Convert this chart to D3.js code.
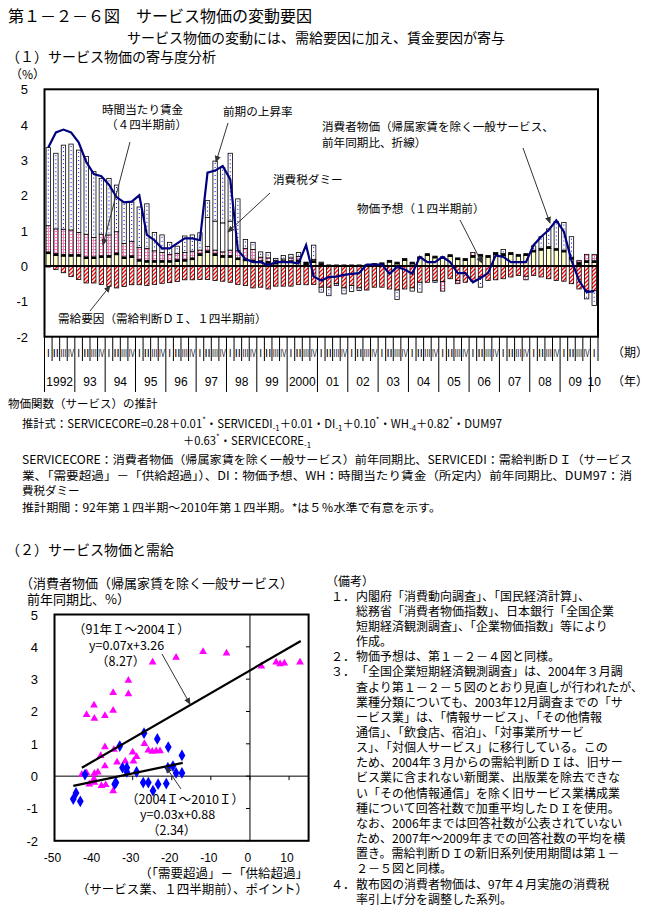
<!DOCTYPE html>
<html>
<head>
<meta charset="utf-8">
<script src="https://cdn.jsdelivr.net/npm/d3@7"></script>
<style>
body { margin: 0; background: #fff; }
svg text { font-family: "Noto Sans CJK JP", sans-serif; fill: #000; }
svg text.num { font-family: "Liberation Sans Narrow", "Liberation Sans", sans-serif; }
</style>
</head>
<body>
<div id="chart"></div>
<script>
// ---- (1) contributions, 1992 I - 2010 I (quarterly) ----
var yearLabels = ["1992","93","94","95","96","97","98","99","2000","01","02","03","04","05","06","07","08","09","10"];
var qLabels = ["I","II","III","IV"];

// demand factor (需給要因)
var demand = [-0.03,-0.10,-0.19,-0.30,-0.38,-0.48,-0.48,-0.52,-0.58,-0.62,
  -0.58,-0.53,-0.53,-0.55,-0.52,-0.49,-0.47,-0.44,-0.39,-0.39,
  -0.38,-0.38,-0.41,-0.43,-0.46,-0.52,-0.55,-0.62,-0.60,-0.65,
  -0.57,-0.57,-0.57,-0.52,-0.53,-0.52,-0.60,-0.60,-0.50,-0.62,
  -0.55,-0.62,-0.68,-0.60,-0.60,-0.65,-0.68,-0.65,-0.62,-0.46,
  -0.46,-0.41,-0.44,-0.36,-0.41,-0.46,-0.43,-0.31,-0.41,-0.39,
  -0.36,-0.31,-0.27,-0.29,-0.27,-0.31,-0.36,-0.41,-0.43,-0.50,
  -0.65,-0.70,-0.70];
// price expectation (物価予想)
var expect = [0.35,0.30,0.28,0.28,0.28,0.21,0.21,0.24,0.25,0.32,
  0.21,0.24,0.14,0.11,0.11,0.11,0.11,0.13,0.14,0.18,
  0.30,0.38,0.30,0.25,0.25,0.18,0.15,0.12,0.10,0.08,
  0.06,0.10,0.10,0.12,0.04,0.10,0.03,0.00,0.00,0.00,
  0.00,0.00,0.00,0.02,0.04,0.11,0.06,0.16,0.06,0.21,
  0.30,0.23,0.21,0.27,0.18,0.16,0.25,0.28,0.25,0.33,
  0.30,0.33,0.28,0.30,0.40,0.45,0.50,0.45,0.40,0.20,
  0.05,0.10,0.10];
// other (black)
var other = [0.05,0.05,0.05,0.05,0.05,0.05,0.05,0.05,0.05,0.05,
  0.05,0.05,0.05,0.05,0.05,0.05,0.05,0.05,0.05,0.05,
  0.05,0.05,0.05,0.05,0.05,0.05,0.05,0.05,0.05,0.05,
  0.05,0.05,0.05,0.05,0.05,0.05,0.05,0.03,0.03,0.03,
  0.03,0.03,0.03,0.05,0.05,0.05,0.05,0.05,0.05,0.05,
  0.05,0.05,0.05,0.05,0.05,0.05,0.05,0.05,0.05,0.05,
  0.05,0.05,0.05,0.05,0.05,0.05,0.05,0.05,0.05,0.05,
  0.05,0.05,0.05];
// hourly wage, 4 quarters before (時間当たり賃金)
var wage = [0.74,0.70,0.71,0.69,0.62,0.64,0.55,0.61,0.58,0.60,
  0.38,0.40,0.33,0.34,0.27,0.22,0.17,0.17,0.19,0.19,
  0.10,0.12,0.10,0.10,0.15,0.20,0.30,0.30,0.10,0.10,
  0.05,0.05,0.08,0.10,0.02,0.04,0.03,0,0,0,
  0,0,0,0,0,0,0,0,0,0,
  0,0,-0.27,0,-0.09,0,0.08,0,0,0,
  0,0,0,-0.10,0,0,0,0,0,0,
  0.06,0.18,0.18];
// consumption tax dummy (消費税ダミー)
var tax = [0,0,0,0,0,0,0,0,0,0, 0,0,0,0,0,0,0,0,0,0,
  0,0.82,0.82,0.82,0.82,0,0,0,0,0, 0,0,0,0,0,0,0,0,0,0,
  0,0,0,0,0,0,0,0,0,0, 0,0,0,0,0,0,0,0,0,0,
  0,0,0,0,0,0,0,0,0,0, 0,0,0];
// previous-period rate (前期の上昇率)
var lag = [2.21,2.14,2.38,2.43,2.33,2.20,1.86,1.58,1.60,1.32,
  1.17,1.12,1.15,1.26,0.52,0.50,0.34,0.21,0.47,0.46,
  0.49,0.48,1.70,1.56,1.92,1.47,0.25,0.20,0.15,0.15,
  0.05,0.10,0.10,0.11,0.00,0.40,-0.14,-0.24,-0.05,-0.17,
  -0.17,-0.07,0,0,0,0,-0.27,0,-0.09,-0.28,
  0,-0.05,0,0,0,0,0,-0.29,0,0,
  0.12,0,0,0,0.12,0.33,0.50,0.76,0.78,0.58,
  0,-0.23,-0.42];
// CPI general services excl. imputed rent, y/y (line)
var cpi = [3.35,3.78,3.86,3.78,3.50,2.95,2.60,2.54,2.30,1.95,
  1.80,1.82,2.00,0.88,0.73,0.50,0.50,0.64,0.78,0.78,
  0.73,2.64,2.70,2.83,2.45,0.45,0.20,0.11,0.11,0.02,
  0.11,0.11,0.11,0.07,0.59,-0.30,-0.41,-0.31,-0.30,-0.25,
  -0.22,-0.20,0.04,0.04,0.04,-0.22,-0.03,-0.10,-0.22,0.26,
  0.11,0.11,0.26,0.11,-0.20,-0.20,-0.46,-0.34,-0.20,0.30,
  0.26,0.11,0.11,0.11,0.59,0.83,1.02,1.29,0.97,0.16,
  -0.41,-0.74,-0.71];
var yTicks1 = [5,4,3,2,1,0,-1,-2];

// ---- (2) scatter ----
var pinkX = [-12.0,-6.0,-18.9,-24.9,2.9,6.7,7.7,8.8,12.8,
  -31.1,-35.0,-31.1,-39.9,-41.8,-39.8,-37.1,-35.0,
  -37.1,-34.8,-30.0,-27.0,-26.0,-25.0,-24.0,-23.0,
  -38.2,-29.0,-37.1,-34.0,-31.9,-29.8,-43.0,-41.8,
  -39.8,-38.9,-41.1,-39.8,-36.9,-35.0,-38.0,-39.9];
var pinkY = [3.85,3.80,3.67,3.52,3.40,3.52,3.47,3.49,3.52,
  2.96,2.58,2.54,2.19,1.90,1.78,1.87,2.03,
  0.90,0.82,0.74,1.00,0.80,0.76,0.78,0.78,
  0.63,0.60,0.31,0.43,0.46,0.46,0.05,0.10,
  0.08,0.12,-0.25,-0.20,-0.27,-0.46,-0.30,-0.08];
var blueX = [-27.1,-23.7,-33.3,-20.9,-17.4,-45.2,-44.5,-43.4,-42.2,-34.6,-32.6,-31.5,
  -31.5,-29.0,-27.3,-26.0,-23.5,-21.4,-24.8,-21.0,-19.7,-18.9,-17.4,-34.3];
var blueY = [1.33,1.15,0.93,0.90,0.64,-0.71,-0.52,-0.78,0.05,-0.25,0.26,0.26,
  0.13,0.13,-0.20,-0.20,-0.25,-0.23,-0.45,0.26,0.31,0.10,0.10,-0.20];
var fitA = [[-43,0.26],[13,4.18]];
var fitB = [[-45.2,-0.30],[-17.2,0.41]];
var xTicks2 = [-50,-40,-30,-20,-10,0,10];
var yTicks2 = [5,4,3,2,1,0,-1,-2];

var notes = [
  ["", "（備考）"],
  ["１．", "内閣府「消費動向調査」、「国民経済計算」、"],
  ["", "総務省「消費者物価指数」、日本銀行「全国企業"],
  ["", "短期経済観測調査」、「企業物価指数」等により"],
  ["", "作成。"],
  ["２．", "物価予想は、第１－２－４図と同様。"],
  ["３．", "「全国企業短期経済観測調査」は、2004年３月調"],
  ["", "査より第１－２－５図のとおり見直しが行われたが、"],
  ["", "業種分類についても、2003年12月調査までの「サ"],
  ["", "ービス業」は、「情報サービス」、「その他情報"],
  ["", "通信」、「飲食店、宿泊」、「対事業所サービ"],
  ["", "ス」、「対個人サービス」に移行している。この"],
  ["", "ため、2004年３月からの需給判断ＤＩは、旧サー"],
  ["", "ビス業に含まれない新聞業、出版業を除去できな"],
  ["", "い「その他情報通信」を除く旧サービス業構成業"],
  ["", "種について回答社数で加重平均したＤＩを使用。"],
  ["", "なお、2006年までは回答社数が公表されていない"],
  ["", "ため、2007年～2009年までの回答社数の平均を横"],
  ["", "置き。需給判断ＤＩの新旧系列使用期間は第１－"],
  ["", "２－５図と同様。"],
  ["４．", "散布図の消費者物価は、97年４月実施の消費税"],
  ["", "率引上げ分を調整した系列。"]
];

var W = 651, H = 923;
var svg = d3.select("#chart").append("svg").attr("width", W).attr("height", H);
var defs = svg.append("defs");

var ph = defs.append("pattern").attr("id", "hatch").attr("patternUnits", "userSpaceOnUse")
  .attr("width", 4).attr("height", 4);
ph.append("rect").attr("width", 4).attr("height", 4).attr("fill", "#fff");
ph.append("path").attr("d", "M-1,1 L1,-1 M0,4 L4,0 M3,5 L5,3")
  .attr("stroke", "#ff0000").attr("stroke-width", 1.3);

var pg = defs.append("pattern").attr("id", "pinkgrid").attr("patternUnits", "userSpaceOnUse")
  .attr("width", 3).attr("height", 3);
pg.append("rect").attr("width", 3).attr("height", 3).attr("fill", "#fff");
pg.append("path").attr("d", "M0,0.5 H3 M0.5,0 V3").attr("stroke", "#ff80c0").attr("stroke-width", 1);

defs.append("marker").attr("id", "arr").attr("viewBox", "0 0 8 8")
  .attr("refX", 7).attr("refY", 4).attr("markerWidth", 7).attr("markerHeight", 7)
  .attr("markerUnits", "userSpaceOnUse").attr("orient", "auto")
  .append("path").attr("d", "M0,0.5 L8,4 L0,7.5 Z").attr("fill", "#333");

function txt(x, y, s, size, anchor, cls) {
  return svg.append("text").attr("x", x).attr("y", y).attr("font-size", size)
    .attr("text-anchor", anchor || "start").attr("class", cls || null).text(s);
}
function arrow(x1, y1, x2, y2) {
  svg.append("line").attr("x1", x1).attr("y1", y1).attr("x2", x2).attr("y2", y2)
    .attr("stroke", "#333").attr("stroke-width", 1).attr("marker-end", "url(#arr)");
}

// titles
txt(8, 22, "第１－２－６図　サービス物価の変動要因", 16);
txt(127, 43, "サービス物価の変動には、需給要因に加え、賃金要因が寄与", 14);
txt(6, 62, "（１）サービス物価の寄与度分析", 14);
txt(10, 79, "（%）", 12);

// ---- chart 1 ----
var L1 = 44.5, R1 = 598, T1 = 89.3, B1 = 336.7;
var n = cpi.length;
var xq = d3.scaleBand().domain(d3.range(n)).range([L1, R1]);
var bw = xq.bandwidth();
var y1 = d3.scaleLinear().domain([-2, 5]).range([B1, T1]);

var rows = d3.range(n).map(function(i) {
  return {i: i, demand: demand[i], expect: expect[i], other: other[i], wage: wage[i], tax: tax[i], lag: lag[i]};
});
var keys = ["demand", "expect", "other", "wage", "tax", "lag"];
var fills = {demand: "url(#hatch)", expect: "#ffffc8", other: "#000", wage: "url(#pinkgrid)", tax: "#fff", lag: "#fff"};
var series = d3.stack().keys(keys).offset(d3.stackOffsetDiverging)(rows);

var g1 = svg.append("g");
series.forEach(function(s) {
  var pts = s.filter(function(d) { return Math.abs(d[1] - d[0]) > 1e-6; });
  g1.selectAll(null).data(pts).enter().append("rect")
    .attr("x", function(d) { return xq(d.data.i) + bw * 0.21; })
    .attr("width", bw * 0.58)
    .attr("y", function(d) { return y1(Math.max(d[0], d[1])); })
    .attr("height", function(d) { return Math.abs(y1(d[0]) - y1(d[1])); })
    .attr("fill", fills[s.key])
    .attr("stroke", "#000").attr("stroke-width", 0.8);
  if (s.key === "lag") {
    g1.selectAll(null).data(pts).enter().append("line")
      .attr("x1", function(d) { return xq(d.data.i) + bw / 2; })
      .attr("x2", function(d) { return xq(d.data.i) + bw / 2; })
      .attr("y1", function(d) { return y1(Math.max(d[0], d[1])) + 2; })
      .attr("y2", function(d) { return y1(Math.min(d[0], d[1])) - 1; })
      .attr("stroke", "#0000ff").attr("stroke-width", 1).attr("stroke-dasharray", "1,3");
  }
});

svg.append("line").attr("x1", L1).attr("x2", R1).attr("y1", y1(0)).attr("y2", y1(0))
  .attr("stroke", "#000").attr("stroke-width", 2);

svg.append("path").datum(cpi)
  .attr("d", d3.line().x(function(d, i) { return xq(i) + bw / 2; }).y(function(d) { return y1(d); }))
  .attr("fill", "none").attr("stroke", "#000080").attr("stroke-width", 2.2);

svg.append("rect").attr("x", L1).attr("y", T1).attr("width", R1 - L1).attr("height", B1 - T1)
  .attr("fill", "none").attr("stroke", "#000").attr("stroke-width", 2);

yTicks1.forEach(function(v) {
  txt(28, y1(v) + 5, String(v), 13, "end", "num");
});

// quarter / year axis
for (var k = 0; k <= n; k++) {
  var xx = L1 + k * bw;
  svg.append("line").attr("x1", xx).attr("x2", xx).attr("y1", B1)
    .attr("y2", k % 4 === 0 ? 392 : 361).attr("stroke", "#000").attr("stroke-width", 1);
}
d3.range(n).forEach(function(i) {
  var lab = qLabels[i % 4];
  var t = txt(xq(i) + bw / 2, 357, lab, 10, "middle", "num");
  if (lab.length > 1) t.attr("textLength", bw - 1.5).attr("lengthAdjust", "spacingAndGlyphs");
});
yearLabels.forEach(function(s, j) {
  var i0 = j * 4, i1 = Math.min(j * 4 + 3, n - 1);
  var cx = (xq(i0) + xq(i1) + bw) / 2;
  txt(cx, 386, s, 12, "middle", "num");
});
txt(612, 357, "（期）", 12);
txt(612, 386, "（年）", 12);

// annotations chart 1
txt(102, 114, "時間当たり賃金", 11.6);
txt(106, 129, "（４四半期前）", 11.6);
arrow(130, 142, 103, 245);
txt(223, 116, "前期の上昇率", 11.6);
arrow(228, 123, 216, 162);
txt(273, 184, "消費税ダミー", 11.6);
arrow(270, 193, 228, 232);
txt(322, 131, "消費者物価（帰属家賃を除く一般サービス、", 11.6);
txt(322, 147, "前年同期比、折線）", 11.6);
arrow(523, 148, 550, 223);
txt(357, 213, "物価予想（１四半期前）", 11.6);
arrow(460, 220, 482, 263);
txt(58, 323, "需給要因（需給判断ＤＩ、１四半期前）", 11.6);
arrow(90, 311, 110, 286);

// ---- estimation text ----
function richLine(x, y, parts, len) {
  var t = svg.append("text").attr("x", x).attr("y", y).attr("font-size", 11.5);
  parts.forEach(function(p) {
    var sp = t.append("tspan").text(p[0]);
    if (p[1] === "sub") sp.attr("font-size", 8).attr("baseline-shift", "-3");
    if (p[1] === "sup") sp.attr("font-size", 8).attr("baseline-shift", "5");
  });
  if (len) t.attr("textLength", len).attr("lengthAdjust", "spacingAndGlyphs");
  return t;
}
richLine(8, 408, [["物価関数（サービス）の推計"]]);
richLine(22, 428, [["推計式：SERVICECORE=0.28＋0.01"], ["*", "sup"], ["・SERVICEDI"], ["-1", "sub"],
  ["＋0.01・DI"], ["-1", "sub"], ["＋0.10"], ["*", "sup"], ["・WH"], ["-4", "sub"],
  ["＋0.82"], ["*", "sup"], ["・DUM97"]], 480);
richLine(183, 445, [["＋0.63"], ["*", "sup"], ["・SERVICECORE"], ["-1", "sub"]], 128);
richLine(22, 464, [["SERVICECORE：消費者物価（帰属家賃を除く一般サービス）前年同期比、SERVICEDI：需給判断ＤＩ（サービス"]], 610);
richLine(22, 480, [["業、「需要超過」－「供給超過」）、DI：物価予想、WH：時間当たり賃金（所定内）前年同期比、DUM97：消"]], 610);
richLine(22, 495, [["費税ダミー"]]);
richLine(22, 512, [["推計期間：92年第１四半期～2010年第１四半期。*は５％水準で有意を示す。"]], 419);

// ---- chart 2 ----
txt(6, 555, "（２）サービス物価と需給", 14);
txt(20, 588, "（消費者物価（帰属家賃を除く一般サービス）", 13);
txt(27, 604, "前年同期比、%）", 13);

var L2 = 54.5, R2 = 308.6, T2 = 614.5, B2 = 840.8;
var sx = d3.scaleLinear().domain([-50, 15]).range([L2, R2]);
var sy = d3.scaleLinear().domain([-2, 5]).range([B2, T2]);

svg.append("line").attr("x1", L2).attr("x2", R2).attr("y1", sy(0)).attr("y2", sy(0))
  .attr("stroke", "#000").attr("stroke-width", 1);
svg.append("line").attr("x1", sx(0)).attr("x2", sx(0)).attr("y1", T2).attr("y2", B2)
  .attr("stroke", "#000").attr("stroke-width", 1);
xTicks2.forEach(function(v) {
  svg.append("line").attr("x1", sx(v)).attr("x2", sx(v)).attr("y1", sy(0)).attr("y2", sy(0) + 4)
    .attr("stroke", "#000");
  txt(sx(v) - 2, 862, String(v), 12, "middle", "num");
});
yTicks2.forEach(function(v) {
  svg.append("line").attr("x1", sx(0) - 4).attr("x2", sx(0)).attr("y1", sy(v)).attr("y2", sy(v))
    .attr("stroke", "#000");
  txt(38, sy(v) + 5, String(v), 13, "end", "num");
});

svg.append("g").selectAll("path").data(pinkX).enter().append("path")
  .attr("d", d3.symbol().type(d3.symbolTriangle).size(26))
  .attr("transform", function(d, i) { return "translate(" + sx(d) + "," + sy(pinkY[i]) + ")"; })
  .attr("fill", "#ff00ff");
svg.append("g").selectAll("path").data(blueX).enter().append("path")
  .attr("d", d3.symbol().type(d3.symbolDiamond).size(40))
  .attr("transform", function(d, i) { return "translate(" + sx(d) + "," + sy(blueY[i]) + ")"; })
  .attr("fill", "#0000ff");

[fitA, fitB].forEach(function(f) {
  svg.append("line").attr("x1", sx(f[0][0])).attr("y1", sy(f[0][1]))
    .attr("x2", sx(f[1][0])).attr("y2", sy(f[1][1]))
    .attr("stroke", "#000").attr("stroke-width", 2.2);
});

svg.append("rect").attr("x", L2).attr("y", T2).attr("width", R2 - L2).attr("height", B2 - T2)
  .attr("fill", "none").attr("stroke", "#000").attr("stroke-width", 2);

txt(73, 634, "（91年Ｉ～2004Ｉ）", 12.5);
txt(89, 650, "y=0.07x+3.26", 12.5);
txt(96, 666, "（8.27）", 12.5);
arrow(162, 654, 190, 704);
txt(126, 804, "（2004Ｉ～2010Ｉ）", 12.5);
txt(140, 819, "y=0.03x+0.88", 12.5);
txt(147, 835, "（2.34）", 12.5);
arrow(181, 789, 166, 767);

txt(308, 878, "（「需要超過」－「供給超過」", 12.5, "end");
txt(308, 894, "（サービス業、１四半期前）、ポイント）", 12.5, "end");

// notes
notes.forEach(function(r, j) {
  var yy = 585.5 + j * 15.15;
  if (j === 0) { txt(326, yy, r[1], 12); return; }
  if (r[0]) txt(331, yy, r[0], 12);
  txt(356, yy, r[1], 12);
});
</script>
</body>
</html>
